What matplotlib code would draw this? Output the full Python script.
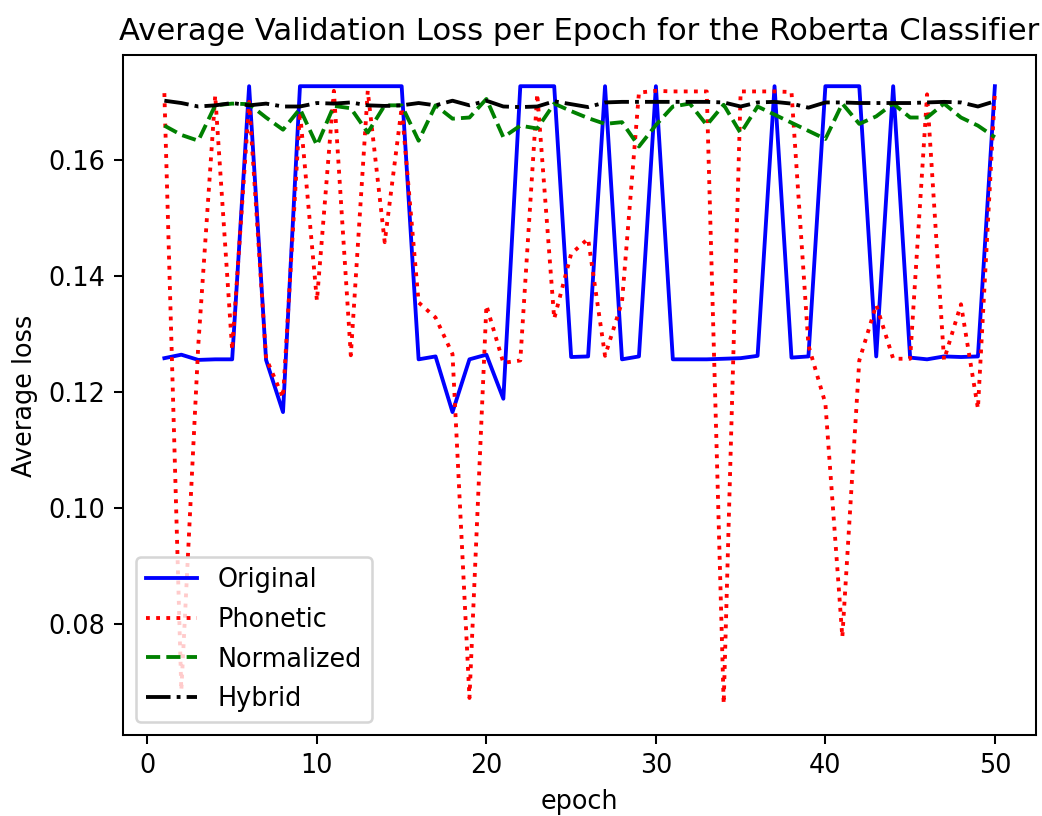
import matplotlib
matplotlib.use("Agg")
import matplotlib.pyplot as plt

epochs = list(range(1, 51))

original = [0.1258, 0.1264, 0.1255, 0.1256, 0.1256, 0.1727, 0.1255, 0.1165, 0.1727, 0.1727,
            0.1727, 0.1727, 0.1727, 0.1727, 0.1727, 0.1256, 0.1261, 0.1165, 0.1256, 0.1264,
            0.1188, 0.1727, 0.1727, 0.1727, 0.1260, 0.1261, 0.1727, 0.1256, 0.1261, 0.1727,
            0.1256, 0.1256, 0.1256, 0.1257, 0.1258, 0.1262, 0.1727, 0.1259, 0.1261, 0.1727,
            0.1727, 0.1727, 0.1261, 0.1727, 0.1259, 0.1256, 0.1261, 0.1260, 0.1261, 0.1727]

phonetic = [0.1715, 0.0685, 0.1280, 0.1711, 0.1272, 0.1700, 0.1258, 0.1190, 0.1683, 0.1357,
            0.1719, 0.1263, 0.1719, 0.1458, 0.1690, 0.1354, 0.1328, 0.1265, 0.0672, 0.1349,
            0.1250, 0.1254, 0.1714, 0.1326, 0.1438, 0.1464, 0.1262, 0.1355, 0.1716, 0.1719,
            0.1718, 0.1718, 0.1718, 0.0662, 0.1718, 0.1718, 0.1718, 0.1717, 0.1280, 0.1180,
            0.0777, 0.1254, 0.1350, 0.1257, 0.1257, 0.1713, 0.1255, 0.1351, 0.1171, 0.1715]

normalized = [0.1659, 0.1643, 0.1633, 0.1694, 0.1697, 0.1696, 0.1673, 0.1652, 0.1688, 0.1625,
              0.1693, 0.1689, 0.1647, 0.1694, 0.1694, 0.1633, 0.1694, 0.1671, 0.1673, 0.1705,
              0.1639, 0.1659, 0.1654, 0.1697, 0.1684, 0.1672, 0.1662, 0.1665, 0.1623, 0.1660,
              0.1692, 0.1697, 0.1660, 0.1695, 0.1646, 0.1692, 0.1678, 0.1664, 0.1650, 0.1636,
              0.1697, 0.1662, 0.1675, 0.1697, 0.1673, 0.1673, 0.1697, 0.1673, 0.1659, 0.1639]

hybrid = [0.1702, 0.1698, 0.1692, 0.1694, 0.1698, 0.1694, 0.1697, 0.1692, 0.1692, 0.1698,
          0.1697, 0.1699, 0.1694, 0.1693, 0.1694, 0.1698, 0.1694, 0.1702, 0.1694, 0.1702,
          0.1692, 0.1691, 0.1692, 0.1701, 0.1696, 0.1691, 0.1699, 0.1700, 0.1700, 0.1700,
          0.1700, 0.1700, 0.1700, 0.1699, 0.1692, 0.1699, 0.1700, 0.1697, 0.1690, 0.1699,
          0.1699, 0.1698, 0.1698, 0.1698, 0.1698, 0.1699, 0.1700, 0.1699, 0.1692, 0.1701]

DPI = 184
fig = plt.figure(figsize=(1042.4 / DPI, 816.4 / DPI), dpi=DPI)
W, H = 1042.0, 816.0
left, right, top, bottom = 122.8, 1036.0, 55.7, 734.7
ax = fig.add_axes([left / W, 1 - bottom / H, (right - left) / W, (bottom - top) / H])

ax.plot(epochs, original, 'b-', label='Original')
ax.plot(epochs, phonetic, 'r:', label='Phonetic')
ax.plot(epochs, normalized, 'g--', label='Normalized')
ax.plot(epochs, hybrid, 'k-.', label='Hybrid')

ax.set_title('Average Validation Loss per Epoch for the Roberta Classifier')
ax.set_xlabel('epoch')
ax.set_ylabel('Average loss')
ax.legend(loc='lower left', labelspacing=0.53)

fig.savefig('out.png', dpi=DPI)
